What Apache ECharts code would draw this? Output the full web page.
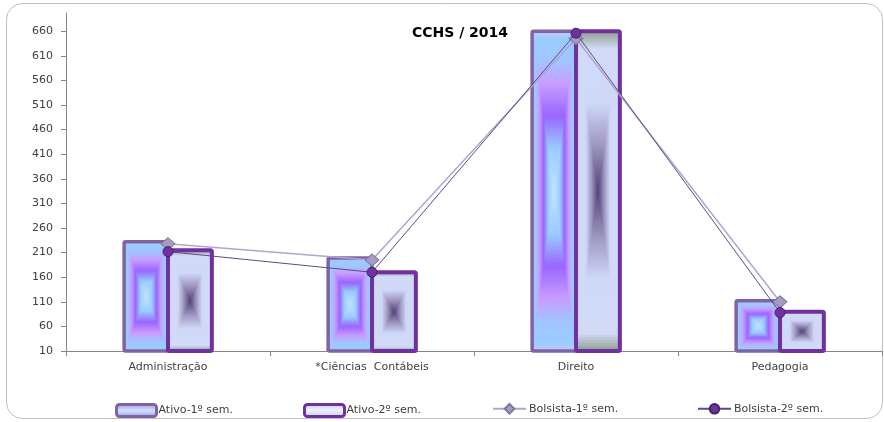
<!DOCTYPE html>
<html>
<head>
<meta charset="utf-8">
<title>CCHS / 2014</title>
<script src="https://cdn.jsdelivr.net/npm/echarts@6/dist/echarts.min.js"></script>
<style>
  html, body { margin: 0; padding: 0; background: #ffffff; }
  #chart { width: 884px; height: 422px; }
</style>
</head>
<body>
<div id="chart"></div>
<script>
// Courses and yearly counts
var categories = ['Administração', '*Ciências  Contábeis', 'Direito', 'Pedagogia'];
var ativo1 = [232, 199, 660, 112];
var ativo2 = [215, 170, 660, 90];
var bolsista1 = [228, 195, 645, 110];
var bolsista2 = [212, 170, 656, 88];
var yTicks = [10, 60, 110, 160, 210, 260, 310, 360, 410, 460, 510, 560, 610, 660];
var AXIS_MIN = 10;
var AXIS_MAX = 697;

// Rectangular "box" gradients: t = 0 at the bar edge, t = 1 at its centre
var ativo1Stops = [[0, '#c6c8ff'], [0.05, '#99ccff'], [0.18, '#a0c6ff'], [0.33, '#c99cff'], [0.53, '#9966ff'], [0.73, '#99ccff'], [1, '#c4e2ff']];
var ativo2Stops = [[0, '#8c9e8a'], [0.11, '#d2daf8'], [0.45, '#d0d8f8'], [0.7, '#a29ac2'], [1, '#54447a']];

function hexToRgb(h) {
  h = h.replace('#', '');
  return [parseInt(h.substr(0, 2), 16), parseInt(h.substr(2, 2), 16), parseInt(h.substr(4, 2), 16)];
}
function colorAt(stops, t) {
  for (var i = 1; i < stops.length; i++) {
    if (t <= stops[i][0]) {
      var a = stops[i - 1], b = stops[i];
      var k = (t - a[0]) / (b[0] - a[0]);
      var ca = hexToRgb(a[1]), cb = hexToRgb(b[1]);
      return 'rgb(' + Math.round(ca[0] + (cb[0] - ca[0]) * k) + ',' +
        Math.round(ca[1] + (cb[1] - ca[1]) * k) + ',' +
        Math.round(ca[2] + (cb[2] - ca[2]) * k) + ')';
    }
  }
  return stops[stops.length - 1][1];
}

function boxBar(stops, borderColor, borderWidth, side) {
  return function (params, api) {
    var cat = api.value(0);
    var val = api.value(1);
    var band = api.size([1, 0])[0];
    var w = band * 0.215;
    var top = api.coord([cat, val]);
    var base = api.coord([cat, AXIS_MIN]);
    var x0 = side < 0 ? top[0] - w : top[0];
    var y0 = top[1];
    var h = base[1] - top[1];
    var hw = w / 2, hh = h / 2;
    var steps = 60;
    var children = [];
    for (var s = 0; s < steps; s++) {
      var t = s / steps;
      children.push({
        type: 'rect',
        shape: { x: x0 + t * hw, y: y0 + t * hh, width: w - 2 * t * hw, height: h - 2 * t * hh },
        style: { fill: colorAt(stops, t + 0.5 / steps) },
        silent: true
      });
    }
    children.push({
      type: 'rect',
      shape: { x: x0, y: y0, width: w, height: h, r: 1.5 },
      style: { fill: 'none', stroke: borderColor, lineWidth: borderWidth }
    });
    return { type: 'group', children: children };
  };
}

function pairs(arr) {
  return arr.map(function (v, i) { return [i, v]; });
}

var labelFont = 'DejaVu Sans';
var legendText = { fontFamily: labelFont, fontSize: 11, color: '#404040' };

var chart = echarts.init(document.getElementById('chart'), null, { renderer: 'canvas' });
chart.setOption({
  backgroundColor: '#ffffff',
  animation: false,
  graphic: [{
    type: 'rect',
    shape: { x: 6.5, y: 3.5, width: 876, height: 415, r: 16 },
    style: { fill: 'none', stroke: '#bfbfbf', lineWidth: 1 },
    z: 0
  }],
  title: {
    text: 'CCHS / 2014',
    left: 460,
    top: 26,
    padding: 0,
    textAlign: 'center',
    textStyle: { fontFamily: labelFont, fontWeight: 'bold', fontSize: 14, color: '#000000' }
  },
  grid: { left: 66, right: 2, top: 13, bottom: 71 },
  legend: [
    {
      left: 115, top: 403, padding: 0, itemWidth: 40, itemHeight: 12, itemGap: 0,
      textStyle: Object.assign({ padding: [0, 0, 0, -3] }, legendText),
      data: [{
        name: 'Ativo-1º sem.', icon: 'roundRect',
        itemStyle: {
          color: { type: 'linear', x: 0, y: 0, x2: 0, y2: 1, colorStops: [
            { offset: 0, color: '#a98fe0' }, { offset: 0.5, color: '#cfe0ff' }, { offset: 1, color: '#a98fe0' }] },
          borderColor: '#8064a2', borderWidth: 3
        }
      }]
    },
    {
      left: 303, top: 403, padding: 0, itemWidth: 40, itemHeight: 12, itemGap: 0,
      textStyle: Object.assign({ padding: [0, 0, 0, -3] }, legendText),
      data: [{
        name: 'Ativo-2º sem.', icon: 'roundRect',
        itemStyle: {
          color: { type: 'linear', x: 0, y: 0, x2: 0, y2: 1, colorStops: [
            { offset: 0, color: '#c8ccf0' }, { offset: 0.5, color: '#eeeefa' }, { offset: 1, color: '#c8ccf0' }] },
          borderColor: '#7030a0', borderWidth: 3
        }
      }]
    },
    {
      left: 492, top: 403, padding: 0, itemWidth: 33, itemHeight: 12,
      textStyle: Object.assign({ padding: [0, 0, 0, -2] }, legendText),
      data: ['Bolsista-1º sem.']
    },
    {
      left: 697, top: 403, padding: 0, itemWidth: 33, itemHeight: 12,
      textStyle: Object.assign({ padding: [0, 0, 0, -2] }, legendText),
      data: ['Bolsista-2º sem.']
    }
  ],
  xAxis: {
    type: 'category',
    data: categories,
    boundaryGap: true,
    axisLine: { lineStyle: { color: '#868686', width: 1 } },
    axisTick: { show: true, length: 5, lineStyle: { color: '#868686' } },
    axisLabel: { margin: 11, fontFamily: labelFont, fontSize: 11, color: '#404040', interval: 0 },
    splitLine: { show: false }
  },
  yAxis: {
    type: 'value',
    min: AXIS_MIN,
    max: AXIS_MAX,
    interval: 50,
    axisLine: { show: true, lineStyle: { color: '#868686', width: 1 } },
    axisTick: { show: true, length: 5, customValues: yTicks, lineStyle: { color: '#868686' } },
    axisLabel: { margin: 13, customValues: yTicks, fontFamily: labelFont, fontSize: 11, color: '#404040' },
    splitLine: { show: false }
  },
  series: [
    {
      name: 'Ativo-1º sem.',
      type: 'custom',
      renderItem: boxBar(ativo1Stops, '#8064a2', 3.5, -1),
      encode: { x: 0, y: 1 },
      data: pairs(ativo1),
      itemStyle: { color: '#9c8ad8' },
      z: 2
    },
    {
      name: 'Ativo-2º sem.',
      type: 'custom',
      renderItem: boxBar(ativo2Stops, '#7030a0', 4, 1),
      encode: { x: 0, y: 1 },
      data: pairs(ativo2),
      itemStyle: { color: '#d0d8f8' },
      z: 3
    },
    {
      name: 'Bolsista-1º sem.',
      type: 'line',
      data: bolsista1,
      symbol: 'diamond',
      symbolSize: [14, 12],
      lineStyle: { color: '#b3a3d3', width: 1.5 },
      itemStyle: { color: '#a89bc3', borderColor: '#7d7898', borderWidth: 1 },
      z: 5
    },
    {
      name: 'Bolsista-2º sem.',
      type: 'line',
      data: bolsista2,
      symbol: 'circle',
      symbolSize: 10,
      lineStyle: { color: '#5e4a86', width: 1 },
      itemStyle: { color: '#7030a0', borderColor: '#3f2a5e', borderWidth: 1 },
      z: 6
    }
  ]
});
</script>
</body>
</html>
